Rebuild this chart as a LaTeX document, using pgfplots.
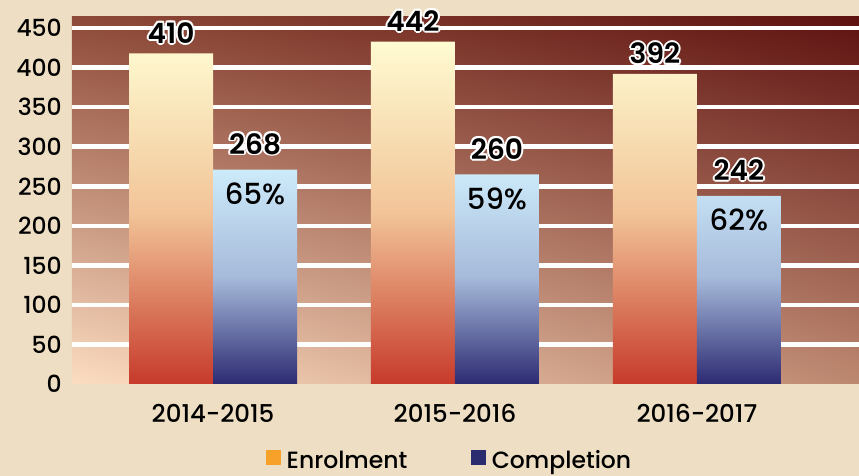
\documentclass[border=0pt]{standalone}
\usepackage{pgfplots}
\pgfplotsset{compat=1.18}
\usepackage{fontspec}
\setmainfont{Poppins}
\newfontfamily\pmed{Poppins}[UprightFont={* Medium}, BoldFont={* SemiBold}]
\usetikzlibrary{shadings}
\definecolor{bgc}{HTML}{EEDFC4}
\definecolor{cLL}{HTML}{FCDDC1}
\definecolor{cUL}{HTML}{8E4A38}
\definecolor{cUR}{HTML}{5E1210}
\definecolor{cLR}{HTML}{BD8870}
\definecolor{enrT}{HTML}{FFFBD2}
\definecolor{enrM}{HTML}{F2C498}
\definecolor{enrB}{HTML}{C63A2A}
\definecolor{comT}{HTML}{CDEBFA}
\definecolor{comM}{HTML}{A6BADA}
\definecolor{comB}{HTML}{2C2A72}
\definecolor{legor}{HTML}{F7A02A}
\definecolor{legnv}{HTML}{2B2B70}
\newcommand\oc[3]{\rlap{\hspace*{#1}\raisebox{#2}{\color{white}#3}}}
\newcommand\outl[1]{\hbox{\oc{2pt}{0pt}{#1}\oc{-2pt}{0pt}{#1}\oc{0pt}{2pt}{#1}\oc{0pt}{-2pt}{#1}\oc{1.4pt}{1.4pt}{#1}\oc{-1.4pt}{1.4pt}{#1}\oc{1.4pt}{-1.4pt}{#1}\oc{-1.4pt}{-1.4pt}{#1}\color{black}#1}}
\begin{document}
\begin{tikzpicture}[x=1pt,y=1pt]
\fill[bgc] (-72,-92) rectangle (787,384);
\path[use as bounding box] (-72,-92) rectangle (787,384);
\begin{axis}[at={(0,0)}, anchor=south west, scale only axis,
  width=787pt, height=367pt,
  xmin=-0.583, xmax=2.67, ymin=0, ymax=464,
  ybar, bar width=84pt,
  axis line style={draw=none}, major tick length=0pt, tick style={draw=none},
  axis background/.style={shade, lower left=cLL, upper left=cUL, upper right=cUR, lower right=cLR},
  ymajorgrids, grid style={white, line width=4.5pt},
  xtick={0,1,2}, xticklabels={2014-2015,2015-2016,2016-2017},
  ytick={50,100,...,450}, extra y ticks={0}, extra y tick style={grid=none},
  /pgf/number format/assume math mode=true,
  yticklabel style={font=\pmed\fontsize{23.5}{23.5}\selectfont, inner sep=0pt, xshift=-10pt},
  xticklabel style={font=\pmed\fontsize{24.5}{24.5}\selectfont, inner sep=0pt, anchor=north, yshift=-20pt},
  legend style={at={(0.48,-0.208)}, anchor=center, draw=none, fill=none,
    font=\pmed\fontsize{23.5}{23.5}\selectfont, legend columns=2,
    nodes={inner ysep=0pt},
    /tikz/every even column/.append style={column sep=62pt}},
]
\addplot[forget plot, bar shift=-42pt, draw=none, top color=enrT, bottom color=enrB, middle color=enrM,
  nodes near coords={\outl{\pgfplotspointmeta}}, point meta=explicit symbolic,
  nodes near coords style={anchor=south, inner sep=0pt, yshift=8pt, font=\pmed\fontsize{28}{28}\selectfont\bfseries}]
  coordinates {(0,418)[410] (1,433)[442] (2,392)[392]};
\addplot[forget plot, bar shift=42pt, draw=none, top color=comT, bottom color=comB, middle color=comM,
  nodes near coords={\outl{\pgfplotspointmeta}}, point meta=explicit symbolic,
  nodes near coords style={anchor=south, inner sep=0pt, yshift=13pt, font=\pmed\fontsize{28}{28}\selectfont\bfseries}]
  coordinates {(0,271)[268] (1,265)[260] (2,238)[242]};
\addplot[forget plot, bar shift=42pt, draw=none, fill=none,
  nodes near coords={\pgfplotspointmeta}, point meta=explicit symbolic,
  nodes near coords style={anchor=north, inner sep=0pt, yshift=-13pt, font=\pmed\fontsize{29}{29}\selectfont}]
  coordinates {(0,271)[65\%] (1,265)[59\%] (2,238)[62\%]};
\addlegendimage{legend image code/.code={\fill[legor] (0pt,-4pt) rectangle (14pt,10pt);\path (18pt,0pt);}}
\addlegendentry{Enrolment}
\addlegendimage{legend image code/.code={\fill[legnv] (0pt,-4pt) rectangle (14pt,10pt);\path (18pt,0pt);}}
\addlegendentry{Completion}
\end{axis}
\end{tikzpicture}
\end{document}
